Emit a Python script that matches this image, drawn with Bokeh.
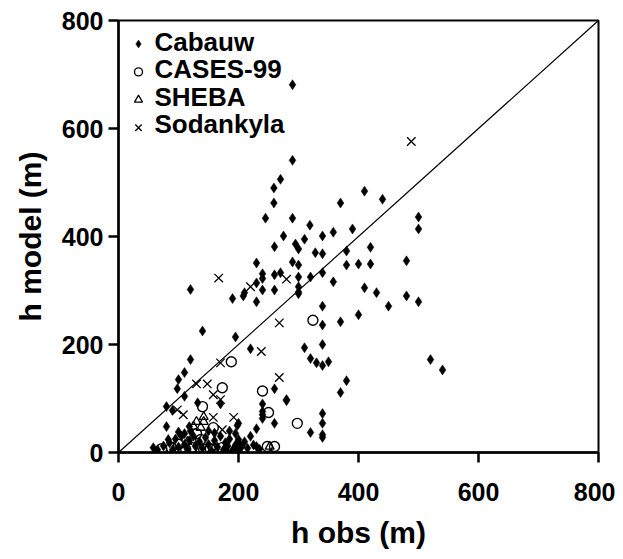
from bokeh.plotting import figure
from bokeh.models import Range1d
from bokeh.core.properties import value
from bokeh.embed import file_html
from bokeh.resources import INLINE

# ---------------- data (h obs, h model) in metres ----------------
cabauw_obs = [290, 290, 270, 259, 259, 245, 290, 319, 370, 410, 440, 275, 260, 295, 300, 310,
              340, 358, 390, 328, 340, 380, 420, 500, 500, 230, 290, 300, 380, 400, 420, 480,
              240, 260, 270, 300, 320, 340, 230, 240, 358, 410, 120, 430, 300, 300, 300, 480,
              500, 450, 340, 210, 208, 190, 230, 240, 260, 400, 370, 340, 195, 220, 310, 340,
              320, 330, 340, 350, 520, 540, 380, 370, 280, 340, 340, 320, 340, 340, 140, 120,
              110, 100, 98, 260, 110, 132, 170, 80, 90, 280, 240, 240, 240, 240, 260, 200,
              230, 220, 230, 200, 80, 83, 198, 118,
              58, 65, 75, 85, 90, 95, 100, 105, 110, 115, 118, 125, 128, 135, 140, 145,
              150, 155, 160, 165, 170, 175, 178, 182, 185, 190, 195, 198, 200, 200, 205, 195,
              185, 150, 120, 110, 100, 215, 225, 235, 210, 180, 160]
cabauw_mod = [681, 541, 506, 490, 462, 434, 434, 421, 462, 484, 469, 401, 381, 386, 377, 395,
              401, 408, 414, 370, 368, 373, 380, 436, 414, 351, 353, 347, 347, 349, 349, 355,
              331, 329, 333, 325, 325, 333, 314, 322, 316, 305, 302, 296, 307, 294, 297, 290,
              279, 271, 271, 296, 290, 285, 279, 301, 301, 255, 242, 236, 214, 192, 194, 200,
              174, 166, 161, 168, 172, 153, 133, 111, 98, 72, 54, 37, 33, 28, 225, 172,
              148, 135, 118, 118, 104, 92, 90, 85, 78, 96, 90, 76, 70, 63, 54, 54,
              44, 30, 11, 24, 48, 24, 50, 48,
              9, 5, 12, 18, 5, 25, 10, 30, 15, 5, 22, 30, 12, 20, 8, 28,
              15, 3, 22, 10, 30, 5, 18, 12, 25, 4, 14, 8, 3, 18, 10, 35,
              40, 40, 40, 35, 38, 8, 14, 6, 20, 3, 36]

cases_obs = [324, 188, 173, 140, 240, 250, 298, 158, 248, 260, 72, 88, 112, 123, 142, 153, 173, 137, 100, 130]
cases_mod = [245, 168, 120, 85, 114, 74, 54, 46, 11, 11, 7, 9, 6, 9, 6, 7, 9, 24, 15, 35]

sheba_obs = [130, 142, 125, 137, 142, 252, 160, 115]
sheba_mod = [57, 57, 48, 46, 66, 11, 10, 20]

sodankyla_obs = [488, 167, 220, 280, 268, 238, 268, 170, 130, 148, 158, 98, 108, 158, 192, 170, 173]
sodankyla_mod = [576, 323, 307, 321, 240, 187, 139, 166, 127, 127, 107, 79, 70, 65, 65, 98, 42]

series_names = ["Cabauw", "CASES-99", "SHEBA", "Sodankyla"]
one_to_one = [0, 800]
ticks = [0, 200, 400, 600, 800]

FONT = "Liberation Sans"
X_MAX, Y_MAX = 800, 800
FRAME_W, FRAME_H = 480, 433

p = figure(width=615, height=551, output_backend="svg", toolbar_location=None,
           x_range=Range1d(0, X_MAX), y_range=Range1d(0, Y_MAX),
           min_border_left=118, min_border_right=17, min_border_top=20, min_border_bottom=98)

p.line(one_to_one, one_to_one, line_color="black", line_width=1.2)

cab_style = dict(marker="diamond", fill_color="black", line_color="black", line_width=0.5)
cas_style = dict(marker="circle", fill_color=None, line_color="black", line_width=1.4)
she_style = dict(marker="triangle", fill_color=None, line_color="black", line_width=1.3)
sod_style = dict(marker="x", line_color="black", line_width=1.3)

p.scatter(cabauw_obs, cabauw_mod, size=10, **cab_style)
p.scatter(cases_obs, cases_mod, size=10, **cas_style)
p.scatter(sheba_obs, sheba_mod, size=9, **she_style)
p.scatter(sodankyla_obs, sodankyla_mod, size=12, **sod_style)

# ---- legend drawn in the upper-left corner (pixel offsets converted to data units) ----
def px_to_x(px):
    return px * X_MAX / FRAME_W

def px_to_y(px_from_top):
    return Y_MAX - px_from_top * Y_MAX / FRAME_H

glyph_x = px_to_x(20)
text_x = px_to_x(36)
text_rows = [px_to_y(v) for v in (21.5, 49, 76.5, 104)]
glyph_rows = [px_to_y(v) for v in (23.5, 51.5, 79.5, 107.5)]

for style, gy, sz in zip((cab_style, cas_style, she_style, sod_style), glyph_rows, (8, 8, 8, 9)):
    p.scatter([glyph_x], [gy], size=sz, **style)

p.text(x=[text_x] * 4, y=text_rows, text=series_names,
       text_font=value(FONT), text_font_style="bold", text_font_size="26px",
       text_baseline="middle", text_align="left", text_color="black")

p.grid.visible = False
p.outline_line_color = "black"
p.outline_line_width = 2

for ax in (p.xaxis[0], p.yaxis[0]):
    ax.ticker = ticks
    ax.axis_line_width = 2.5
    ax.major_tick_line_width = 2.5
    ax.major_tick_out = 10
    ax.major_tick_in = 0
    ax.minor_tick_line_color = None
    ax.major_label_text_font = FONT
    ax.major_label_text_font_style = "bold"
    ax.major_label_text_font_size = "25px"
    ax.major_label_text_color = "black"
    ax.axis_label_text_font = FONT
    ax.axis_label_text_font_style = "bold"
    ax.axis_label_text_font_size = "30px"
    ax.axis_label_text_color = "black"

p.xaxis.axis_label = "h obs (m)"
p.yaxis.axis_label = "h model (m)"
p.xaxis.major_label_standoff = 20
p.xaxis.axis_label_standoff = 12
p.yaxis.major_label_standoff = 5
p.yaxis.axis_label_standoff = 12

open("out.html", "w").write(file_html(p, INLINE))
